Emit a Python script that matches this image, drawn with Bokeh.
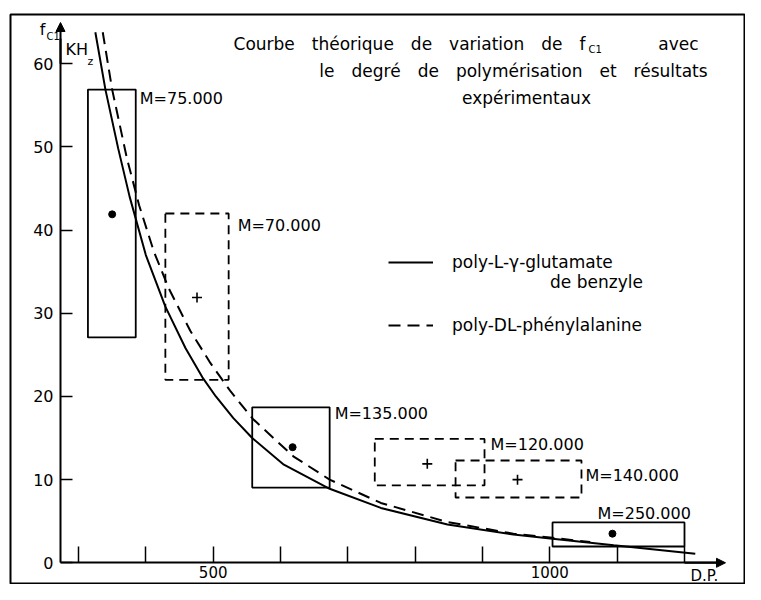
from bokeh.plotting import figure
from bokeh.models import (Range1d, FixedTicker, Label, Legend, LegendItem, Arrow,
                          NormalHead, ColumnDataSource)
from bokeh.embed import file_html
from bokeh.resources import INLINE
from bokeh.core.properties import value

FONT = "DejaVu Sans"

# ---------------- data ----------------
x_ticks = [300, 400, 500, 600, 700, 800, 900, 1000, 1100, 1200]
x_tick_labels = {500: "500", 1000: "1000"}
y_ticks = [0, 10, 20, 30, 40, 50, 60]

# theoretical curve, poly-L-glutamate de benzyle (solid)
solid_dp = [325, 340, 359, 376, 400, 429, 459, 484, 504, 530, 558, 605, 673, 749, 848, 946, 1004, 1095, 1216]
solid_f = [63.8, 56.9, 49.8, 44.0, 37.0, 30.8, 25.8, 22.3, 20.0, 17.4, 15.0, 11.8, 8.9, 6.6, 4.6, 3.4, 2.9, 2.1, 1.1]

# theoretical curve, poly-DL-phenylalanine (dashed)
dashed_dp = [336, 350, 372, 390, 412, 434, 466, 496, 526, 559, 619, 673, 749, 848, 946, 1004, 1060]
dashed_f = [63.8, 56.9, 48.6, 43.0, 37.4, 33.0, 27.9, 24.0, 20.6, 17.3, 12.8, 10.0, 7.2, 4.9, 3.5, 3.0, 2.5]

# experimental results
sample_names = ["M=75.000", "M=70.000", "M=135.000", "M=120.000", "M=140.000", "M=250.000"]
sample_polymer = ["glu", "phe", "glu", "phe", "phe", "glu"]
dp_low = [314, 429, 558, 740, 860, 1004]
dp_high = [385, 523, 673, 903, 1047, 1200]
f_low = [27.1, 22.0, 9.05, 9.3, 7.85, 1.96]
f_high = [56.9, 42.0, 18.7, 14.9, 12.3, 4.85]
dp_mean = [350, 476, 618, 818, 952, 1093]
f_mean = [41.9, 31.9, 13.9, 11.9, 10.0, 3.5]

title_lines = ["Courbe théorique de variation de f", "avec",
               "le degré de polymérisation et résultats", "expérimentaux"]

# ---------------- styling / layout ----------------
label_dx = [4, 9, 5, 6, 4, -87]     # pixel offsets of the M= labels
label_dy = [9, 12, 6, 6, 15, -9]

W, H = 745, 584
FL, FT = 10, 14                      # frame left / top in pixels
X0, X1 = 199.0, 1290.6
Y0, Y1 = -2.61, 65.93
AXIS_X = 273.3
GAP = "\u2003"                       # the lettering of the original has wide word gaps


def wide(s):
    return s.replace(" ", GAP)


def px2x(px):
    return X0 + (px - FL) * (X1 - X0) / (W - FL)


def py2y(py):
    return Y1 - (py - FT) * (Y1 - Y0) / (H - FT)


p = figure(width=W, height=H, x_range=Range1d(X0, X1), y_range=Range1d(Y0, Y1),
           output_backend="svg", toolbar_location=None,
           min_border_left=FL, min_border_top=FT, min_border_right=0, min_border_bottom=0)
p.outline_line_color = "black"
p.outline_line_width = 2
p.xgrid.visible = False
p.ygrid.visible = False
p.background_fill_color = "white"
p.border_fill_color = "white"

# axes drawn inside the frame
xa = p.xaxis[0]
ya = p.yaxis[0]
xa.fixed_location = 0
ya.fixed_location = AXIS_X
xa.bounds = (AXIS_X, 1250)
ya.bounds = (0, 63)
xa.ticker = FixedTicker(ticks=x_ticks)
ya.ticker = FixedTicker(ticks=y_ticks)
xa.major_label_overrides = {t: x_tick_labels.get(t, "") for t in x_ticks}
for ax, tin in ((xa, 16), (ya, 12)):
    ax.axis_line_width = 2
    ax.axis_line_color = "black"
    ax.major_tick_in = tin
    ax.major_tick_out = 0
    ax.major_tick_line_width = 1.5
    ax.major_tick_line_color = "black"
    ax.minor_tick_line_color = None
    ax.major_label_text_font = FONT
    ax.major_label_text_font_size = "16px"
    ax.major_label_text_color = "black"
xa.major_label_text_font_size = "15px"
xa.major_label_standoff = 3
ya.major_label_standoff = 7

# axis arrows
p.add_layout(Arrow(end=NormalHead(size=9, fill_color="black", line_color="black"),
                   x_start=AXIS_X, y_start=60, x_end=AXIS_X, y_end=py2y(22),
                   line_width=2, line_color="black"))
p.add_layout(Arrow(end=NormalHead(size=9, fill_color="black", line_color="black"),
                   x_start=1200, y_start=0, x_end=px2x(725), y_end=0,
                   line_width=2, line_color="black"))

# curves
r_solid = p.line(solid_dp, solid_f, line_color="black", line_width=2)
r_dash = p.line(dashed_dp, dashed_f, line_color="black", line_width=2, line_dash="12 7")

# rectangles
src = ColumnDataSource(dict(l=dp_low, r=dp_high, b=f_low, t=f_high, x=dp_mean, y=f_mean,
                            name=sample_names, poly=sample_polymer, dx=label_dx, dy=label_dy))
glu_idx = [i for i, s in enumerate(sample_polymer) if s == "glu"]
phe_idx = [i for i, s in enumerate(sample_polymer) if s == "phe"]


def sub(idx):
    return ColumnDataSource({k: [v[i] for i in idx] for k, v in src.data.items()})


glu = sub(glu_idx)
phe = sub(phe_idx)
p.quad(left="l", right="r", bottom="b", top="t", source=glu, fill_color=None,
       line_color="black", line_width=1.8)
p.quad(left="l", right="r", bottom="b", top="t", source=phe, fill_color=None,
       line_color="black", line_width=1.8, line_dash="9 6")
p.scatter("x", "y", source=glu, marker="circle", size=7, fill_color="black", line_color="black")
p.scatter("x", "y", source=phe, marker="cross", size=10, line_color="black", line_width=1.6)

p.text("r", "t", text="name", source=src, x_offset="dx", y_offset="dy",
       text_font=value(FONT), text_font_size="16px", text_baseline="middle",
       text_align="left", text_color="black")

# legend (location = bottom-left corner, frame pixels from the frame's bottom-left)
leg = Legend(items=[LegendItem(label="poly-L-γ-glutamate", renderers=[r_solid]),
                    LegendItem(label="poly-DL-phénylalanine", renderers=[r_dash])],
             location=(388 - FL, H - 335), padding=0, margin=0, spacing=43,
             glyph_width=45, glyph_height=20, label_height=20, label_standoff=19,
             border_line_color=None, background_fill_alpha=0,
             label_text_font=FONT, label_text_font_size="17px", label_text_color="black")
p.add_layout(leg)


def lab(text, px, py, size, align="left"):
    p.add_layout(Label(x=px2x(px), y=py2y(py), text=text, text_font=FONT,
                       text_font_size=size, text_align=align, text_baseline="middle",
                       text_color="black"))


lab("de benzyle", 596, 281, "17px", "center")

# title
lab(wide(title_lines[0]), 585, 43, "17px", "right")
lab("C1", 588, 49, "10px")
lab(title_lines[1], 698, 43, "17px", "right")
lab(wide(title_lines[2]), 513, 70, "17px", "center")
lab(title_lines[3], 526, 97, "17px", "center")

# axis names
lab("f", 42, 29, "16px", "center")
lab("C1", 46, 36, "10px")
lab("KH", 65, 49, "16px")
lab("z", 87, 61, "11px")
lab("D.P.", 690, 575, "15px")

open("out.html", "w").write(file_html(p, INLINE))
